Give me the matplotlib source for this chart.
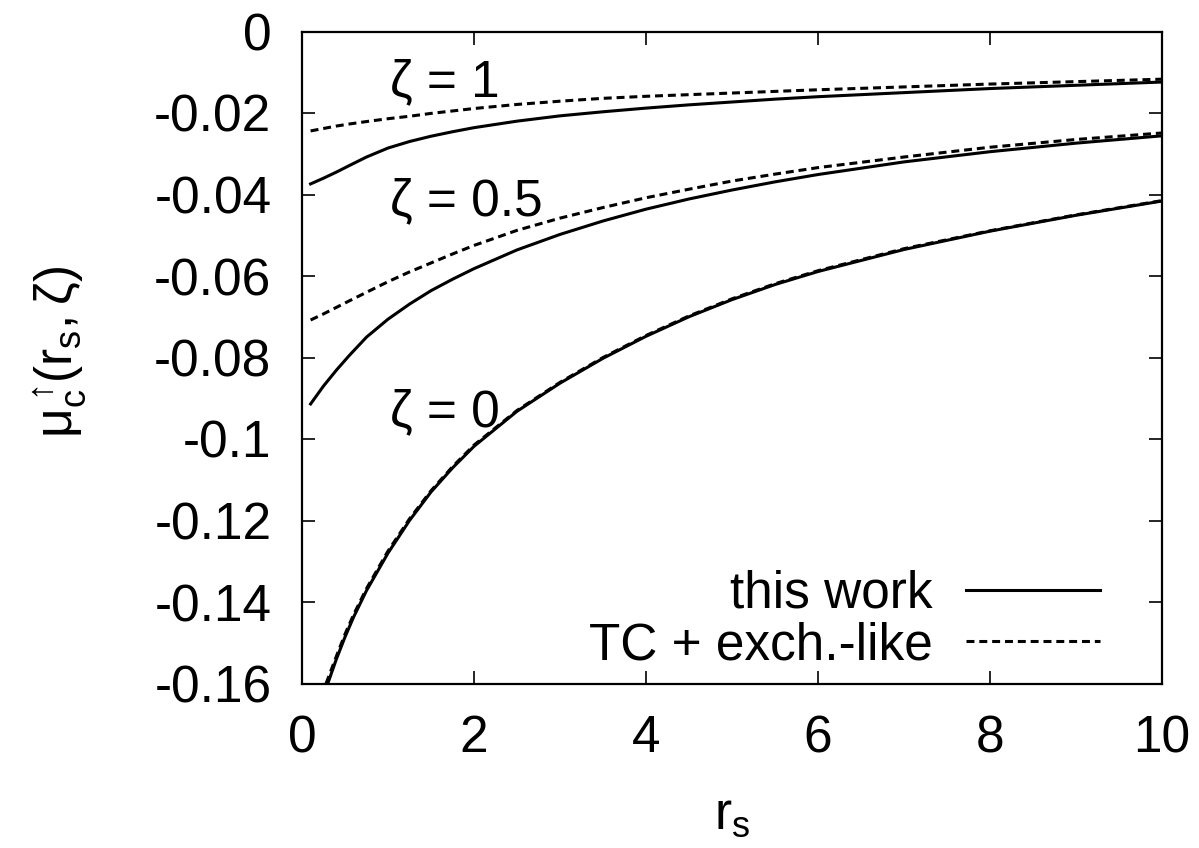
import numpy as np
import matplotlib
matplotlib.use("Agg")
import matplotlib.pyplot as plt

plt.rcParams['font.family'] = ['Liberation Sans', 'DejaVu Sans']
plt.rcParams['mathtext.default'] = 'regular'
plt.rcParams['font.size'] = 37

# r_s grid shared by the zeta=1 and zeta=0.5 curves
rs = [0.1, 0.25, 0.4, 0.55, 0.75, 1.0, 1.25, 1.5, 1.75, 2.0, 2.5,
      3.0, 3.5, 4.0, 4.5, 5.0, 5.5, 6.0, 7.0, 8.0, 9.0, 10.0]

z1_this = [-0.0374, -0.0360, -0.0345, -0.0329, -0.0308, -0.0286, -0.0270, -0.0257, -0.0246, -0.0236, -0.0220,
           -0.0207, -0.0197, -0.0188, -0.0180, -0.0173, -0.0166, -0.0160, -0.0150, -0.0140, -0.0132, -0.0124]
z1_tc = [-0.0244, -0.0238, -0.0232, -0.0227, -0.0221, -0.0214, -0.0208, -0.0201, -0.0195, -0.0189, -0.0179,
         -0.0171, -0.0164, -0.0159, -0.0155, -0.0151, -0.0147, -0.0143, -0.0136, -0.0129, -0.0123, -0.0117]

z05_this = [-0.0914, -0.0870, -0.0831, -0.0795, -0.0750, -0.0706, -0.0669, -0.0636, -0.0608, -0.0582, -0.0536,
            -0.0498, -0.0465, -0.0436, -0.0411, -0.0389, -0.0369, -0.0351, -0.0320, -0.0295, -0.0274, -0.0256]
z05_tc = [-0.0708, -0.0693, -0.0677, -0.0661, -0.0640, -0.0614, -0.0590, -0.0568, -0.0546, -0.0525, -0.0488,
          -0.0458, -0.0432, -0.0408, -0.0387, -0.0367, -0.0350, -0.0334, -0.0308, -0.0284, -0.0265, -0.0249]

# zeta = 0 starts below the plot window
rs0 = [0.3, 0.4, 0.5, 0.6, 0.75, 1.0, 1.25, 1.5, 1.75, 2.0, 2.5,
       3.0, 3.5, 4.0, 4.5, 5.0, 5.5, 6.0, 7.0, 8.0, 9.0, 10.0]
z0_this = [-0.1600, -0.1540, -0.1486, -0.1437, -0.1372, -0.1280, -0.1200, -0.1130, -0.1071, -0.1018, -0.0932,
           -0.0863, -0.0802, -0.0748, -0.0700, -0.0658, -0.0621, -0.0589, -0.0535, -0.0490, -0.0451, -0.0416]
rs0_tc = [0.28, 0.4, 0.5, 0.6, 0.75, 1.0, 1.25, 1.5, 1.75, 2.0, 2.5,
          3.0, 3.5, 4.0, 4.5, 5.0, 5.5, 6.0, 7.0, 8.0, 9.0, 10.0]
z0_tc = [-0.1600, -0.1533, -0.1479, -0.1431, -0.1367, -0.1275, -0.1196, -0.1127, -0.1068, -0.1015, -0.0930,
         -0.0861, -0.0800, -0.0746, -0.0698, -0.0656, -0.0619, -0.0587, -0.0533, -0.0489, -0.0450, -0.0415]

xticks = [0, 2, 4, 6, 8, 10]
yticks = [0, -0.02, -0.04, -0.06, -0.08, -0.1, -0.12, -0.14, -0.16]
ytick_labels = ['0', '-0.02', '-0.04', '-0.06', '-0.08', '-0.1', '-0.12', '-0.14', '-0.16']

fig = plt.figure(figsize=(11.99, 8.48), dpi=100)
ax = fig.add_axes([302 / 1199, 1 - 683.5 / 848, 860 / 1199, 652 / 848])

lw = 2.2
dash = (0, (2.6, 1.6))
ax.plot(rs, z1_this, color='black', lw=lw, label='this work')
ax.plot(rs, z1_tc, color='black', lw=lw, ls=dash, label='TC + exch.-like')
ax.plot(rs, z05_this, color='black', lw=lw)
ax.plot(rs, z05_tc, color='black', lw=lw, ls=dash)
ax.plot(rs0, z0_this, color='black', lw=lw)
ax.plot(rs0_tc, z0_tc, color='black', lw=lw, ls=dash)

ax.text(1.02, -0.0126, 'ζ = 1', ha='left', va='center')
ax.text(1.02, -0.0418, 'ζ = 0.5', ha='left', va='center')
ax.text(1.02, -0.0936, 'ζ = 0', ha='left', va='center')

ax.set_xlim(0, 10)
ax.set_ylim(-0.16, 0)
ax.set_xticks(xticks)
ax.set_yticks(yticks)
ax.set_yticklabels(ytick_labels)
ax.tick_params(direction='in', length=9.5, width=1.2, top=True, right=True, pad=22)
for s in ax.spines.values():
    s.set_linewidth(1.6)

ax.set_xlabel('$r_s$', labelpad=20)
fig.text(0.05, 0.585, r'$\mu_c^{\uparrow}\!(r_s,\zeta)$', rotation=90, ha='center', va='center')

ax.legend(loc='lower right', bbox_to_anchor=(0.928, 0.02), frameon=False,
          markerfirst=False, handlelength=2.6, handletextpad=0.65,
          labelspacing=0.05, borderpad=0, borderaxespad=0)

fig.savefig('out.png', dpi=100)
